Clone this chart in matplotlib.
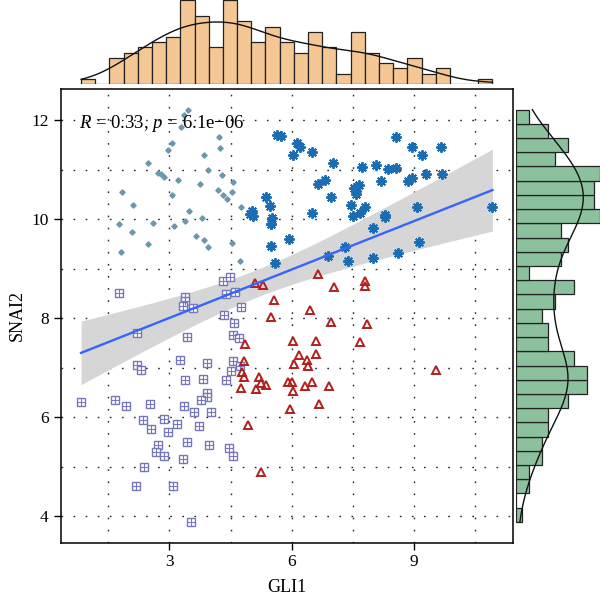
import numpy as np
import matplotlib
matplotlib.use("Agg")
import matplotlib.pyplot as plt

plt.rcParams['font.family'] = ['Liberation Serif', 'DejaVu Serif']
plt.rcParams['mathtext.fontset'] = 'custom'
plt.rcParams['mathtext.rm'] = 'Liberation Serif'
plt.rcParams['mathtext.it'] = 'Liberation Serif:italic'

# low GLI1 / high SNAI2 (diamonds)
lo_hi_x = [3.45, 3.35, 3.28, 4.21, 3.07, 4.23, 2.96, 3.84, 2.48, 3.94, 2.73, 2.79, 2.86,
           4.28, 3.22, 4.56, 3.75, 4.54, 4.18, 4.31, 1.83, 3.07, 4.41, 2.11, 4.75, 3.49,
           3.80, 3.39, 1.76, 2.60, 3.10, 2.08, 3.66, 3.85, 3.95, 2.48, 4.53, 1.80, 4.73]
lo_hi_y = [12.22, 12.11, 11.87, 11.67, 11.55, 11.44, 11.40, 11.31, 11.15, 10.99, 10.94, 10.92, 10.86,
           10.90, 10.80, 10.76, 10.71, 10.55, 10.59, 10.49, 10.55, 10.49, 10.41, 10.29, 10.26, 10.17,
           10.02, 9.97, 9.90, 9.92, 9.87, 9.75, 9.67, 9.59, 9.45, 9.51, 9.53, 9.33, 9.16]

# high GLI1 / high SNAI2 (asterisks)
hi_hi_x = [5.63, 5.73, 6.12, 6.20, 6.03, 6.49, 7.01, 6.65, 6.83, 6.97, 5.36, 5.47, 5.02, 5.04,
           4.98, 5.52, 5.49, 5.50, 6.51, 5.93, 5.49, 5.60, 6.90,
           8.56, 8.96, 9.67, 9.21, 7.72, 8.07, 8.37, 8.56, 9.30, 9.69, 8.86, 8.96, 8.20, 7.54,
           7.59, 7.66, 7.58, 7.45, 7.81, 7.50, 7.69, 8.29, 8.30, 9.08, 8.00, 7.32, 7.39, 8.00,
           8.60, 9.13, 10.93]
hi_hi_y = [11.71, 11.68, 11.55, 11.46, 11.31, 11.37, 11.15, 10.72, 10.80, 10.45, 10.45, 10.27, 10.16, 10.06,
           10.10, 10.02, 9.90, 9.90, 10.13, 9.60, 9.46, 9.11, 9.25,
           11.66, 11.47, 11.47, 11.31, 11.06, 11.09, 11.01, 11.04, 10.92, 10.92, 10.78, 10.83, 10.78, 10.63,
           10.52, 10.70, 10.57, 10.29, 10.26, 10.07, 10.13, 10.09, 10.04, 10.24, 9.83, 9.45, 9.16, 9.22,
           9.32, 9.54, 10.24]

# low GLI1 / low SNAI2 (boxed plus)
lo_lo_x = [1.76, 4.32, 4.49, 4.40, 4.60, 3.37, 3.37, 3.33, 3.58, 4.75, 2.20, 4.35, 4.59, 3.44,
           4.55, 4.71, 2.20, 2.29, 3.26, 3.91, 4.56, 4.73, 4.51, 4.40, 3.38, 3.83, 0.83, 1.67,
           1.93, 2.53, 3.36, 3.91, 3.91, 3.77, 3.60, 4.02, 2.36, 2.86, 3.18, 3.72, 2.55, 2.97,
           3.43, 3.98, 2.73, 2.66, 2.86, 3.33, 4.45, 4.57, 2.38, 2.18, 3.08, 3.53]
lo_lo_y = [8.52, 8.76, 8.83, 8.49, 8.54, 8.42, 8.34, 8.24, 8.21, 8.22, 7.71, 8.07, 7.90, 7.63,
           7.67, 7.60, 7.05, 6.95, 7.15, 7.10, 7.13, 7.03, 6.93, 6.76, 6.76, 6.78, 6.31, 6.35,
           6.23, 6.26, 6.23, 6.48, 6.41, 6.35, 6.10, 6.11, 5.94, 5.96, 5.86, 5.82, 5.75, 5.70,
           5.49, 5.44, 5.43, 5.29, 5.22, 5.15, 5.37, 5.21, 4.99, 4.61, 4.60, 3.88]

# high GLI1 / low SNAI2 (open triangles)
hi_lo_x = [5.11, 5.29, 6.65, 5.57, 6.45, 5.49, 4.86, 6.03, 6.61, 4.83, 6.18, 6.60, 6.38, 6.07,
           6.41, 4.77, 4.83, 5.21, 5.24, 5.38, 5.12, 4.75, 5.90, 6.00, 6.04, 6.32, 6.51, 5.96,
           6.66, 7.04, 7.79, 7.80, 6.96, 7.84, 7.69, 9.55, 6.91, 5.24, 4.92]
hi_lo_y = [8.72, 8.67, 8.90, 8.37, 8.17, 8.02, 7.48, 7.53, 7.53, 7.13, 7.26, 7.27, 7.16, 7.08,
           7.03, 6.91, 6.82, 6.81, 6.69, 6.64, 6.56, 6.58, 6.71, 6.71, 6.53, 6.63, 6.71, 6.17,
           6.27, 8.64, 8.75, 8.66, 7.93, 7.89, 7.52, 6.95, 6.63, 4.88, 5.84]

label_text = r"$R$ = 0.33, $p$ = 6.1e−06"

x = np.array(lo_hi_x + hi_hi_x + lo_lo_x + hi_lo_x)
y = np.array(lo_hi_y + hi_hi_y + lo_lo_y + hi_lo_y)
n = len(x)


def kde(v, grid):
    sd = v.std(ddof=1)
    iqr = np.subtract(*np.percentile(v, [75, 25]))
    bw = 0.9 * min(sd, iqr / 1.34) * len(v) ** -0.2
    z = (grid[:, None] - v[None, :]) / bw
    return np.exp(-0.5 * z ** 2).sum(1) / (len(v) * bw * np.sqrt(2 * np.pi))


def expand(v):
    r = v.max() - v.min()
    return v.min() - 0.05 * r, v.max() + 0.05 * r


W, H = 600, 598
fig = plt.figure(figsize=(W / 100, H / 100), dpi=100)
L, R, T, B = 60.5, 513, 89, 542.5
ax = fig.add_axes([L / W, 1 - B / H, (R - L) / W, (B - T) / H])
axt = fig.add_axes([L / W, 1 - 84 / H, (R - L) / W, 84 / H])
axr = fig.add_axes([516 / W, 1 - B / H, 84 / W, (B - T) / H])

# grid
dot = dict(color='0.15', lw=1.0, linestyle=(0, (1.2, 7.5)))
ax.set_xticks([3, 6, 9])
ax.set_xticks([1.5, 4.5, 7.5, 10.5], minor=True)
ax.set_yticks([4, 6, 8, 10, 12])
ax.set_yticks([5, 7, 9, 11], minor=True)
ax.grid(True, which='both', **dot)
ax.set_axisbelow(True)

# regression + 95% CI
xm = x.mean()
sxx = ((x - xm) ** 2).sum()
b = ((x - xm) * (y - y.mean())).sum() / sxx
a = y.mean() - b * xm
s = np.sqrt(((y - a - b * x) ** 2).sum() / (n - 2))
gx = np.linspace(x.min(), x.max(), 100)
gy = a + b * gx
se = s * np.sqrt(1 / n + (gx - xm) ** 2 / sxx)
ax.fill_between(gx, gy - 1.973 * se, gy + 1.973 * se, color='#d6d6d6', lw=0, zorder=2)

ax.plot(lo_hi_x, lo_hi_y, 'D', ms=2.7, color='#6b98ae', mec='#6b98ae', zorder=3)
ax.plot(hi_hi_x, hi_hi_y, marker=(8, 2, 0), ls='none', ms=7.5, mew=1.4, color='#1b6db3', zorder=3)
ax.plot(lo_lo_x, lo_lo_y, 's', ms=5.2, mfc='white', mec='#7777bb', mew=1.0, zorder=3)
ax.plot(lo_lo_x, lo_lo_y, '+', ms=5.2, mec='#7777bb', mew=0.8, zorder=3)
ax.plot(hi_lo_x, hi_lo_y, '^', ms=6.2, mfc='none', mec='#b2201c', mew=1.4, zorder=3)
ax.plot(gx, gy, color='#3366ff', lw=1.7, zorder=4)

ax.text(0.04, 0.925, label_text, transform=ax.transAxes, fontsize=13.5, va='center', ha='left')

ax.set_xlim(*expand(x))
ax.set_ylim(*expand(y))
ax.set_xlabel('GLI1', fontsize=13, labelpad=6)
ax.set_ylabel('SNAI2', fontsize=13, labelpad=4)
ax.tick_params(which='major', length=5, width=1, labelsize=12.5, direction='out')
ax.tick_params(which='minor', length=0)
for sp in ax.spines.values():
    sp.set_linewidth(1.1)

# marginal histograms
nb = 29
cx, ex = np.histogram(x, bins=nb, range=(x.min(), x.max()))
axt.bar(ex[:-1], cx, width=np.diff(ex), align='edge', color='#f4c795', edgecolor='#222222', lw=0.9)
kx = np.linspace(x.min(), x.max(), 200)
axt.plot(kx, kde(x, kx) * n * np.diff(ex)[0], color='#111111', lw=1.0)
axt.set_xlim(ax.get_xlim())
axt.set_ylim(0, cx.max() * 1.005)
axt.axis('off')

cy, ey = np.histogram(y, bins=nb, range=(y.min(), y.max()))
axr.barh(ey[:-1], cy, height=np.diff(ey), align='edge', color='#8cc19e', edgecolor='#222222', lw=0.9)
ky = np.linspace(y.min(), y.max(), 200)
axr.plot(kde(y, ky) * n * np.diff(ey)[0], ky, color='#111111', lw=1.0)
axr.set_ylim(ax.get_ylim())
axr.set_xlim(0, cy.max() * 1.0)
axr.axis('off')

fig.savefig('out.png', dpi=100)
